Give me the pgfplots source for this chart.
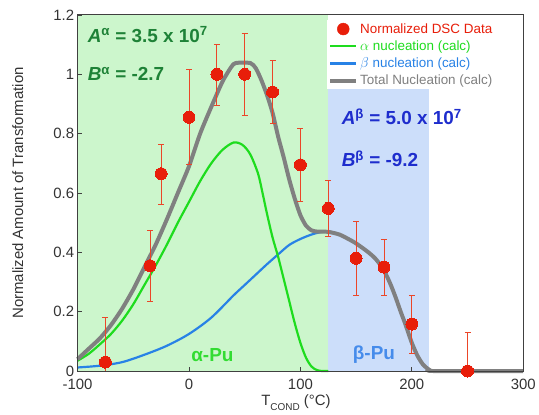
\documentclass[border=0pt]{standalone}
\usepackage{pgfplots}
\pgfplotsset{compat=1.18}
\usepackage{pgfplotstable}
\usepackage{fontspec}
\setmainfont{Liberation Sans}
\definecolor{bggreen}{RGB}{204,246,204}
\definecolor{bgblue}{RGB}{204,222,250}
\definecolor{dscred}{RGB}{232,30,10}
\definecolor{errred}{RGB}{235,70,40}
\definecolor{agreen}{RGB}{30,220,30}
\definecolor{bblue}{RGB}{40,130,230}
\definecolor{totgray}{RGB}{128,128,128}
\definecolor{txtgreen}{RGB}{30,130,55}
\definecolor{txtblue}{RGB}{30,45,205}
\definecolor{pugreen}{RGB}{50,220,50}
\definecolor{publue}{RGB}{70,140,235}

\pgfplotstableread{
x y ep em
-75 0.03 0.15 0.03
-35 0.355 0.12 0.12
-25 0.665 0.10 0.105
0 0.855 0.16 0.16
25 1.0 0.10 0.105
50 1.0 0.137 0.14
75 0.94 0.105 0.105
100 0.695 0.123 0.123
125 0.548 0.095 0.095
150 0.38 0.125 0.125
175 0.35 0.095 0.095
200 0.158 0.098 0.10
250 0.0 0.13 0.0
}\dscdata

\pgfplotstableread{
x y
-100 0.035
-90 0.058
-80 0.09
-70 0.125
-60 0.17
-50 0.225
-40 0.29
-30 0.355
-20 0.425
-10 0.50
0 0.57
10 0.64
20 0.70
30 0.745
40 0.77
48 0.762
55 0.73
62 0.665
66 0.60
70 0.53
75 0.45
80 0.385
85 0.31
90 0.235
95 0.16
100 0.095
105 0.045
110 0.015
115 0.003
120 0
125 0
}\alphadata

\pgfplotstableread{
x y
-100 0.012
-80 0.018
-60 0.03
-40 0.055
-20 0.085
0 0.125
20 0.18
40 0.255
50 0.29
60 0.325
70 0.36
80 0.393
90 0.425
100 0.445
110 0.46
118 0.468
125 0.47
}\betadata

\pgfplotstableread{
x y
-100 0.04
-90 0.075
-80 0.11
-70 0.155
-60 0.21
-50 0.275
-40 0.35
-30 0.425
-20 0.51
-10 0.6
0 0.69
10 0.80
20 0.89
30 0.975
38 1.025
42 1.038
55 1.038
60 1.02
65 0.98
70 0.93
75 0.87
80 0.79
85 0.72
90 0.645
95 0.58
100 0.525
105 0.49
110 0.474
115 0.47
125 0.469
135 0.46
143 0.445
150 0.43
160 0.403
167 0.38
174 0.346
180 0.30
185 0.253
190 0.20
194 0.16
200 0.095
205 0.052
210 0.022
215 0.006
220 0
300 0
}\totaldata

\begin{document}
\begin{tikzpicture}
\begin{axis}[
  axis on top,
  at={(0pt,0pt)}, anchor=south west,
  scale only axis, width=448pt, height=358pt,
  xmin=-100, xmax=300, ymin=0, ymax=1.2,
  xtick={-100,0,100,200,300},
  ytick={0,0.2,0.4,0.6,0.8,1,1.2},
  tick align=inside, xtick pos=left, ytick pos=left,
  major tick length=4pt,
  axis line style={draw=black!75, line width=1pt},
  tick style={black!75, line width=0.8pt},
  ticklabel style={font=\fontsize{15}{18}\selectfont, text=black!80},
  xticklabel style={yshift=-5pt},
  /pgf/number format/assume math mode=true,
  clip=false,
  xlabel={T\raisebox{-5pt}{\fontsize{10}{12}\selectfont COND} (°C)},
  xlabel style={at={(axis description cs:0.49,-0.09)}, anchor=center, font=\fontsize{15}{18}\selectfont, text=black!80},
  ylabel={Normalized Amount of Transformation},
  ylabel style={at={(axis description cs:-0.134,0.5)}, anchor=center, font=\fontsize{15}{18}\selectfont, text=black!80},
  legend style={at={(0.56,0.985)}, anchor=north west, draw=none, fill=white,
    font=\fontsize{13.5}{15}\selectfont, inner sep=1pt, row sep=2pt,
    cells={anchor=west}},
  legend image code/.code={\draw[#1] (0pt,0pt) -- (26pt,0pt);},
]
\addplot[forget plot, fill=bggreen, draw=none] coordinates {(-100,0) (125,0) (125,1.2) (-100,1.2)} -- cycle;
\addplot[forget plot, fill=bgblue, draw=none] coordinates {(125,0) (215,0) (215,0.95) (125,0.95)} -- cycle;

\addlegendimage{legend image code/.code={\fill[dscred] (13pt,0pt) circle (6pt);}}
\addlegendentry{\textcolor{dscred}{Normalized DSC Data}}
\addlegendimage{agreen, line width=2.2pt}
\addlegendentry{\textcolor{agreen}{$\alpha$ nucleation (calc)}}
\addlegendimage{bblue, line width=2.2pt}
\addlegendentry{\textcolor{bblue}{$\beta$ nucleation (calc)}}
\addlegendimage{totgray, line width=4pt}
\addlegendentry{\textcolor{totgray}{Total Nucleation (calc)}}

\addplot[forget plot, bblue, line width=2.2pt, smooth, tension=0.5] table[x=x,y=y] {\betadata};
\addplot[forget plot, agreen, line width=2.2pt, smooth, tension=0.5] table[x=x,y=y] {\alphadata};
\addplot[forget plot, totgray, line width=4pt, smooth, tension=0.4] table[x=x,y=y] {\totaldata};

\addplot[forget plot, dscred, only marks, mark=*, mark size=6pt,
  mark options={draw=dscred, fill=dscred, line width=0pt},
  error bars/.cd, y dir=both, y explicit,
  error bar style={errred, line width=0.9pt},
  error mark options={rotate=90, errred, mark size=3pt, line width=0.9pt}]
  table[x=x, y=y, y error plus=ep, y error minus=em] {\dscdata};

\node[anchor=west, text=txtgreen, font=\bfseries\fontsize{19}{22}\selectfont] at (axis cs:-94,1.134)
  {\textit{A}\textsuperscript{α} = 3.5 x 10\textsuperscript{7}};
\node[anchor=west, text=txtgreen, font=\bfseries\fontsize{19}{22}\selectfont] at (axis cs:-94,1.0)
  {\textit{B}\textsuperscript{α} = -2.7};
\node[anchor=west, text=txtblue, font=\bfseries\fontsize{19}{22}\selectfont] at (axis cs:134,0.856)
  {\textit{A}\textsuperscript{β} = 5.0 x 10\textsuperscript{7}};
\node[anchor=west, text=txtblue, font=\bfseries\fontsize{19}{22}\selectfont] at (axis cs:134,0.715)
  {\textit{B}\textsuperscript{β} = -9.2};
\node[text=pugreen, font=\bfseries\fontsize{19}{22}\selectfont] at (axis cs:21,0.055) {α-Pu};
\node[text=publue, font=\bfseries\fontsize{19}{22}\selectfont] at (axis cs:166,0.055) {β-Pu};
\end{axis}
\useasboundingbox (-78pt,-43pt) rectangle (461pt,373pt);
\end{tikzpicture}
\end{document}
